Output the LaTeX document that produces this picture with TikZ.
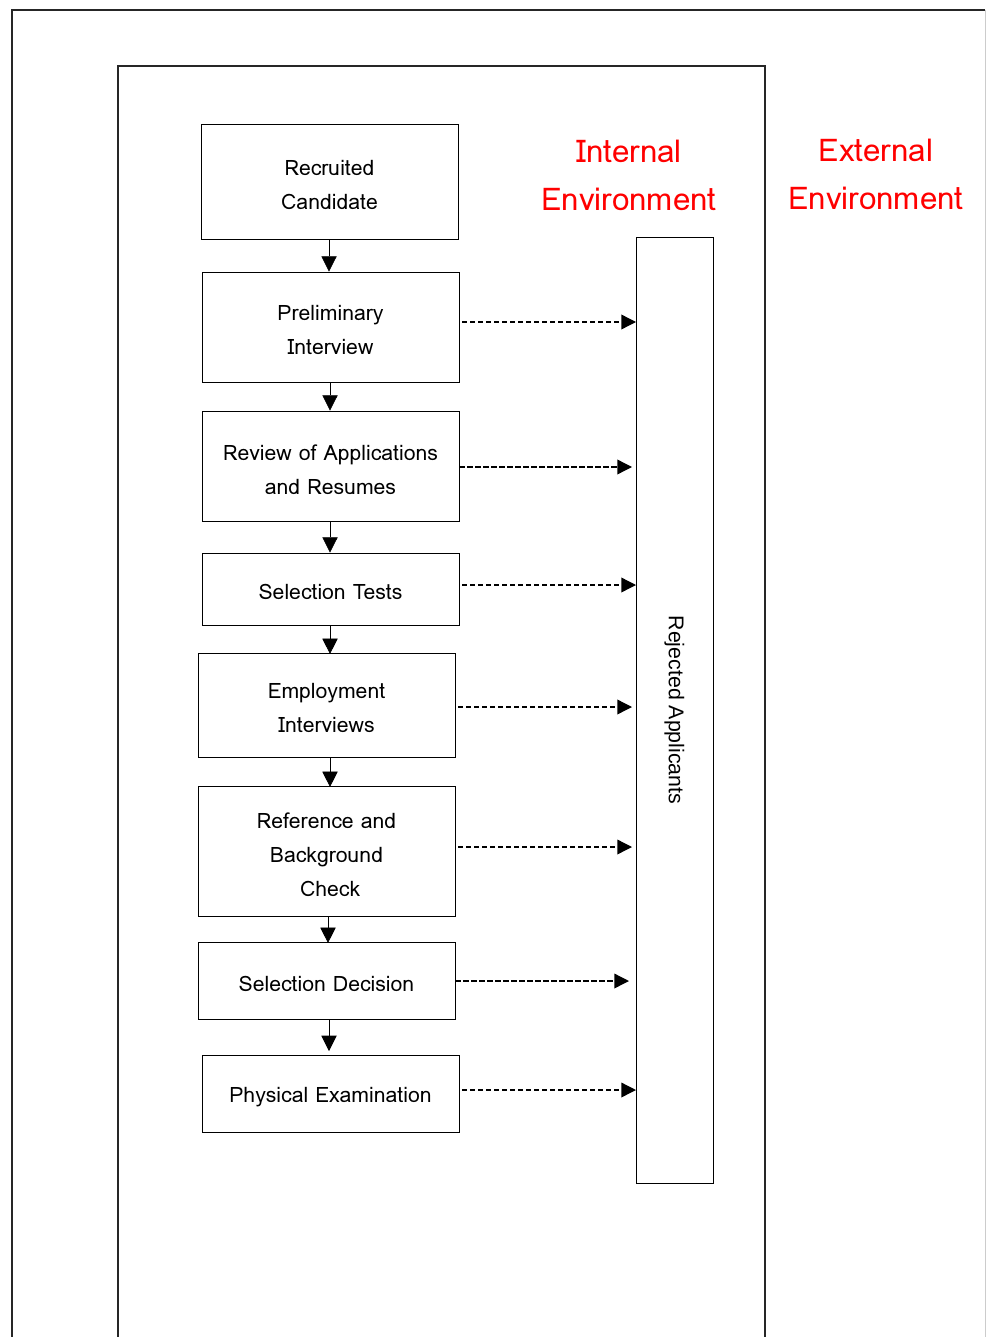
\documentclass[tikz,border=0pt]{standalone}
\usepackage{fontspec}
\setmainfont{Loma}
\newfontfamily\rotfont{Liberation Sans}
\usetikzlibrary{arrows.meta}
\begin{document}
\begin{tikzpicture}[x=0.75pt,y=-0.75pt,
  stagebox/.style={draw,line width=0.6pt,align=center,font=\fontsize{15.9}{25.5}\selectfont,inner sep=0pt},
  stagetext/.style={align=center,font=\fontsize{15.9}{25.5}\selectfont,inner sep=0pt,yshift=-2.5pt},
  down/.style={draw,line width=0.5pt,-{Triangle[length=11.5pt,width=11.5pt]}},
  reject/.style={draw,line width=1pt,dashed,dash pattern=on 4pt off 2pt,-{Triangle[length=11pt,width=11pt]}},
  envlabel/.style={text=red,font=\fontsize{23.5}{36}\selectfont,align=center}]
\useasboundingbox (0,0) rectangle (986,1337);
\draw[line width=1pt,black!85] (12,1340) -- (12,10) -- (985,10);
\draw[line width=0.6pt,black!20] (985,10) -- (985,1340);
\draw[line width=1pt,black!85] (118,1340) -- (118,66) -- (765,66) -- (765,1340);
% stage boxes
\node[stagebox,minimum width=257*0.75pt,minimum height=115*0.75pt] (s1) at (329.5,181.5) {};
\node[stagetext] (t1) at (s1) {Recruited\\Candidate};
\node[stagebox,minimum width=257*0.75pt,minimum height=110*0.75pt] (s2) at (330.5,327) {};
\node[stagetext] (t2) at (s2) {Preliminary\\Interview};
\node[stagebox,minimum width=257*0.75pt,minimum height=110*0.75pt] (s3) at (330.5,466) {};
\node[stagetext] (t3) at (s3) {Review of Applications\\and Resumes};
\node[stagebox,minimum width=257*0.75pt,minimum height=72*0.75pt] (s4) at (330.5,589) {};
\node[stagetext] (t4) at (s4) {Selection Tests};
\node[stagebox,minimum width=257*0.75pt,minimum height=104*0.75pt] (s5) at (326.5,705) {};
\node[stagetext] (t5) at (s5) {Employment\\Interviews};
\node[stagebox,minimum width=257*0.75pt,minimum height=130*0.75pt] (s6) at (326.5,851) {};
\node[stagetext] (t6) at (s6) {Reference and\\Background\\\ Check};
\node[stagebox,minimum width=257*0.75pt,minimum height=77*0.75pt] (s7) at (326.5,980.5) {};
\node[stagetext] (t7) at (s7) {Selection Decision};
\node[stagebox,minimum width=257*0.75pt,minimum height=77*0.75pt] (s8) at (330.5,1093.5) {};
\node[stagetext] (t8) at (s8) {Physical Examination};
% rejected
\node[draw,line width=0.6pt,minimum width=946*0.75pt,minimum height=77*0.75pt,rotate=-90,font=\rotfont\fontsize{16}{18}\selectfont,inner sep=0pt] (rej) at (674.5,710) {Rejected Applicants};
% environment labels
\node[envlabel] (ie) at (629,175) {Internal\\Environment};
\node[envlabel] (ee) at (876,174) {External\\Environment};
% down arrows
\draw[down] (s1.south -| 329,0) -- (s2.north -| 329,0);
\draw[down] (s2.south -| 330,0) -- (s3.north -| 330,0);
\draw[down] (s3.south -| 330,0) -- (s4.north -| 330,0);
\draw[down] (s4.south -| 330,0) -- ([yshift=-1]s5.north -| 330,0);
\draw[down] (s5.south -| 330,0) -- ([yshift=-1]s6.north -| 330,0);
\draw[down] (s6.south -| 328,0) -- ([yshift=-1]s7.north -| 328,0);
\draw[down] (s7.south -| 329,0) -- (329,1051);
% reject arrows
\coordinate (r2) at (636,322);
\coordinate (r3) at (632,467);
\coordinate (r4) at (636,585);
\coordinate (r5) at (632,707);
\coordinate (r6) at (632,847);
\coordinate (r7) at (629,981);
\coordinate (r8) at (636,1090);
\draw[reject] (462,322) -- (r2);
\draw[reject] (s3.east |- r3) -- (r3);
\draw[reject] (462,585) -- (r4);
\draw[reject] (458,707) -- (r5);
\draw[reject] (458,847) -- (r6);
\draw[reject] (s7.east |- r7) -- (r7);
\draw[reject] (462,1090) -- (r8);
\end{tikzpicture}
\end{document}
